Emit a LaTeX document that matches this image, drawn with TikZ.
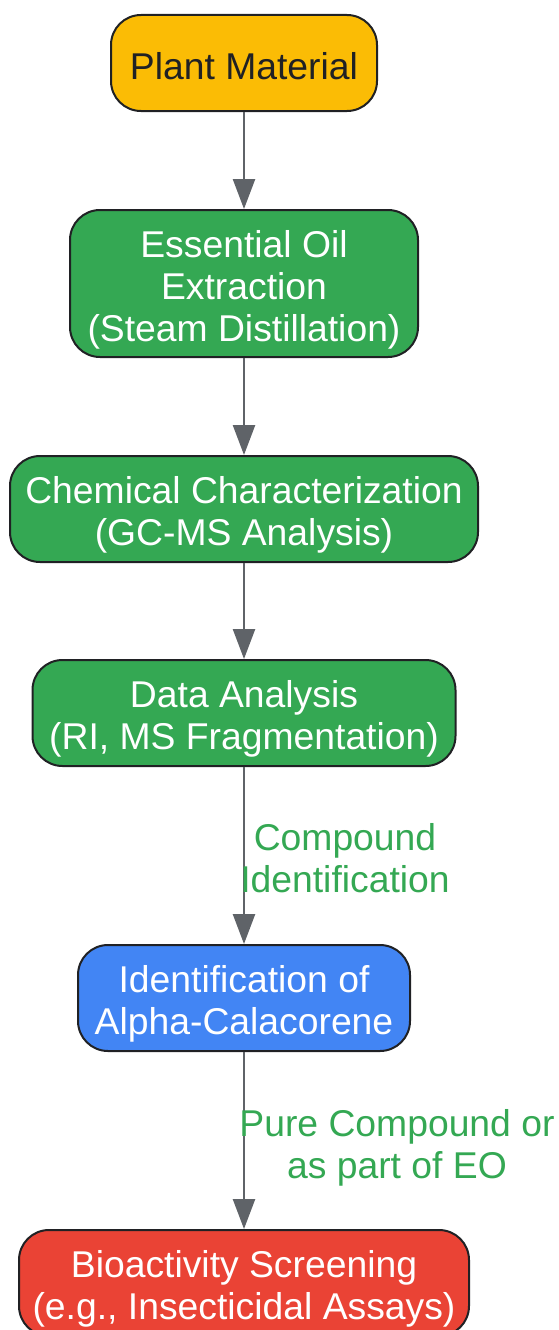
\documentclass[tikz,border=0pt]{standalone}
\usepackage{fontspec}
\setmainfont{Liberation Sans}
\usetikzlibrary{arrows.meta}
\definecolor{cyellow}{HTML}{FBBC05}
\definecolor{cgreen}{HTML}{34A853}
\definecolor{cblue}{HTML}{4285F4}
\definecolor{cred}{HTML}{EA4335}
\definecolor{cborder}{HTML}{202124}
\definecolor{carrow}{HTML}{5F6368}
\tikzset{
  box/.style={draw=cborder, line width=2pt, rounded corners=30pt, inner sep=0pt},
  boxtext/.style={align=center, font=\fontsize{37.3}{42}\selectfont, text=white, inner sep=0pt},
  flow/.style={draw=carrow, line width=2.5pt, -{Triangle[width=22pt,length=30pt]}},
  elabel/.style={text=cgreen, align=center, font=\fontsize{37.3}{42}\selectfont, inner sep=0pt}
}
\begin{document}
\begin{tikzpicture}[x=1pt,y=1pt]
\useasboundingbox (0,0) rectangle (559,-1330);
\node[box, fill=cyellow, minimum width=266pt, minimum height=96pt] (n1) at (244,-63) {};
\node[box, fill=cgreen, minimum width=348pt, minimum height=147pt] (n2) at (244,-283.5) {};
\node[box, fill=cgreen, minimum width=468pt, minimum height=106pt] (n3) at (244,-509) {};
\node[box, fill=cgreen, minimum width=423pt, minimum height=106pt] (n4) at (244,-713) {};
\node[box, fill=cblue, minimum width=332pt, minimum height=106pt] (n5) at (244,-998) {};
\node[box, fill=cred, minimum width=450pt, minimum height=106pt] (n6) at (244,-1283) {};
\node[boxtext, text=cborder] (t1) at ([yshift=-3pt]n1.center) {Plant Material};
\node[boxtext] (t2) at ([yshift=-6.5pt]n2.center) {Essential Oil\\Extraction\\(Steam Distillation)};
\node[boxtext] (t3) at ([yshift=-6pt]n3.center) {Chemical Characterization\\(GC-MS Analysis)};
\node[boxtext] (t4) at ([yshift=-6pt]n4.center) {Data Analysis\\(RI, MS Fragmentation)};
\node[boxtext] (t5) at ([yshift=-6pt]n5.center) {Identification of\\Alpha-Calacorene};
\node[boxtext] (t6) at ([yshift=-6pt]n6.center) {Bioactivity Screening\\(e.g., Insecticidal Assays)};
\draw[flow] (n1) -- (n2);
\draw[flow] (n2) -- (n3);
\draw[flow] (n3) -- (n4);
\draw[flow] (n4) -- (n5);
\draw[flow] (n5) -- (n6);
\node[elabel] (l1) at (345,-858) {Compound\\Identification};
\node[elabel] (l2) at (397,-1148) {Pure Compound or\\as part of EO};
\end{tikzpicture}
\end{document}
